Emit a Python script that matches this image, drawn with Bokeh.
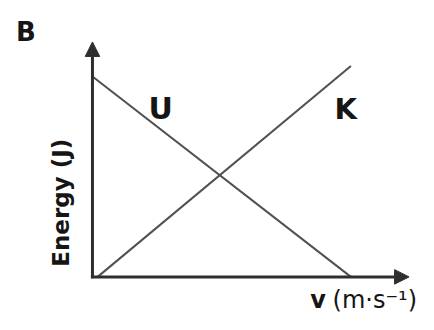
from bokeh.plotting import figure
from bokeh.models import Range1d, Arrow, NormalHead, Label
from bokeh.embed import file_html
from bokeh.resources import INLINE
import math

# ---- data (arbitrary units) ----
v_U = [0.0, 10.0]
E_U = [9.5, 0.0]
v_K = [0.2, 10.0]
E_K = [0.0, 10.0]
x_axis_end = 12.25
y_axis_end = 11.14
x_label = "(m·s⁻¹)"
x_label_var = "v"
y_label = "Energy (J)"
panel_label = "B"
curve_labels = ["U", "K"]

W, H = 418, 314
SX, SY = 0.968, 0.963          # squeeze the 434x330 layout into the canvas
PX_PER_V = 26.7 * SX
PX_PER_E = 21.9 * SY
OX, OY = 95 * SX, 287 * SY     # canvas position of the origin

p = figure(width=W, height=H, output_backend="svg", toolbar_location=None,
           x_range=Range1d(-OX / PX_PER_V, (W - OX) / PX_PER_V),
           y_range=Range1d(-(H - OY) / PX_PER_E, OY / PX_PER_E),
           min_border=0, outline_line_color=None)
p.axis.visible = False
p.grid.visible = False
p.background_fill_color = "white"
p.border_fill_color = "white"

line_col = "#505050"
axis_col = "#2e2e2e"
text_col = "#151515"
font = "DejaVu Sans"

p.line(v_U, E_U, line_color=line_col, line_width=2)
p.line(v_K, E_K, line_color=line_col, line_width=2)

for xs, ys, xe, ye in [(0, -0.06, 0, y_axis_end), (-0.06, 0, x_axis_end, 0)]:
    p.add_layout(Arrow(end=NormalHead(size=14.5, fill_color=axis_col, line_color=axis_col),
                       x_start=xs, y_start=ys, x_end=xe, y_end=ye,
                       line_color=axis_col, line_width=3))

def vx(px):
    return (px - 95) / 26.7

def ey(py):
    return (287 - py) / 21.9

def lab(text, px, py, size, bold=True, **kw):
    p.add_layout(Label(x=vx(px), y=ey(py), text=text, text_font=font,
                       text_font_size=f"{size}px",
                       text_font_style="bold" if bold else "normal",
                       text_color=text_col, **kw))

lab(panel_label, 16, 33, 26, text_baseline="alphabetic")
lab(curve_labels[0], 153, 112, 30, text_baseline="alphabetic")
lab(curve_labels[1], 345, 113, 29, text_baseline="alphabetic")
lab(y_label, 62, 210, 23, angle=math.pi / 2, text_align="center", text_baseline="middle")
lab(x_label_var, 320, 311, 24, text_baseline="alphabetic")
lab(x_label, 343, 311, 24, bold=False, text_baseline="alphabetic")

open("out.html", "w").write(file_html(p, INLINE))
